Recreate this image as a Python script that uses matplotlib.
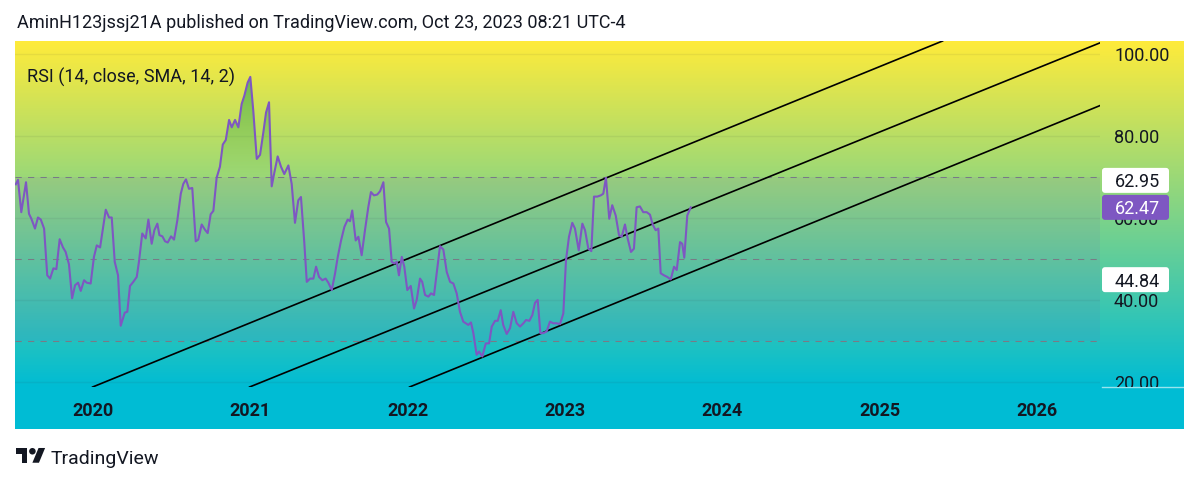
import matplotlib
matplotlib.use("Agg")
import matplotlib.pyplot as plt
import numpy as np
from matplotlib.colors import to_rgb
from matplotlib.patches import FancyBboxPatch, Polygon, Circle
from matplotlib.transforms import blended_transform_factory

plt.rcParams["font.family"] = ["Roboto", "DejaVu Sans"]

# ── Data (weekly RSI, x in decimal years) ─────────────────────────────────────
rsi_t = [
    2019.509, 2019.523, 2019.544, 2019.574, 2019.593, 2019.608, 2019.631, 2019.650,
    2019.668, 2019.689, 2019.709, 2019.727, 2019.748, 2019.767, 2019.788, 2019.809,
    2019.826, 2019.847, 2019.867, 2019.886, 2019.905, 2019.922, 2019.943, 2019.960,
    2019.985, 2020.006, 2020.024, 2020.045, 2020.081, 2020.102, 2020.119, 2020.138,
    2020.159, 2020.176, 2020.202, 2020.218, 2020.235, 2020.256, 2020.278, 2020.292,
    2020.313, 2020.335, 2020.352, 2020.373, 2020.390, 2020.409, 2020.422, 2020.441,
    2020.458, 2020.475, 2020.496, 2020.515, 2020.536, 2020.558, 2020.574, 2020.591,
    2020.610, 2020.631, 2020.653, 2020.669, 2020.691, 2020.712, 2020.729, 2020.748,
    2020.765, 2020.786, 2020.807, 2020.825, 2020.844, 2020.865, 2020.882, 2020.903,
    2020.924, 2020.945, 2020.962, 2020.983, 2021.000, 2021.019, 2021.041, 2021.062,
    2021.083, 2021.100, 2021.119, 2021.136, 2021.153, 2021.174, 2021.195, 2021.216,
    2021.242, 2021.263, 2021.284, 2021.305, 2021.322, 2021.343, 2021.359, 2021.380,
    2021.401, 2021.418, 2021.437, 2021.458, 2021.479, 2021.496, 2021.518, 2021.539,
    2021.556, 2021.577, 2021.598, 2021.619, 2021.634, 2021.648, 2021.670, 2021.687,
    2021.708, 2021.729, 2021.750, 2021.767, 2021.786, 2021.807, 2021.825, 2021.846,
    2021.863, 2021.882, 2021.899, 2021.915, 2021.931, 2021.945, 2021.963, 2021.979,
    2021.998, 2022.020, 2022.041, 2022.058, 2022.079, 2022.093, 2022.111, 2022.132,
    2022.149, 2022.168, 2022.185, 2022.206, 2022.227, 2022.249, 2022.270, 2022.291,
    2022.312, 2022.333, 2022.354, 2022.386, 2022.403, 2022.418, 2022.439, 2022.454,
    2022.475, 2022.497, 2022.518, 2022.535, 2022.556, 2022.573, 2022.592, 2022.608,
    2022.630, 2022.651, 2022.672, 2022.694, 2022.715, 2022.736, 2022.753, 2022.774,
    2022.793, 2022.810, 2022.827, 2022.844, 2022.863, 2022.884, 2022.905, 2022.926,
    2022.948, 2022.969, 2022.990, 2023.007, 2023.026, 2023.047, 2023.064, 2023.088,
    2023.111, 2023.128, 2023.149, 2023.168, 2023.185, 2023.206, 2023.228, 2023.244,
    2023.261, 2023.282, 2023.301, 2023.323, 2023.344, 2023.361, 2023.382, 2023.399,
    2023.420, 2023.439, 2023.456, 2023.477, 2023.498, 2023.520, 2023.541, 2023.558,
    2023.577, 2023.594, 2023.609, 2023.630, 2023.651, 2023.673, 2023.694, 2023.711,
    2023.732, 2023.746, 2023.759, 2023.778, 2023.800,
]
rsi_v = [
    68.1, 69.2, 61.3, 68.6, 60.9, 59.7, 57.3, 60.0,
    59.5, 57.3, 45.9, 45.1, 47.6, 47.4, 54.7, 52.7,
    51.6, 48.6, 40.3, 43.5, 44.1, 42.1, 44.7, 44.1,
    43.9, 50.4, 53.2, 52.7, 61.9, 60.0, 60.0, 49.2,
    45.9, 33.6, 36.8, 37.0, 43.3, 44.3, 45.5, 49.2,
    56.1, 54.9, 59.5, 53.6, 56.9, 58.5, 55.7, 55.4,
    54.2, 53.9, 55.4, 54.6, 59.3, 65.8, 68.2, 69.3,
    67.0, 67.2, 54.2, 54.6, 58.3, 57.0, 56.2, 60.8,
    61.6, 69.7, 72.4, 77.8, 78.9, 83.8, 82.0, 83.8,
    82.0, 87.7, 89.7, 92.9, 94.3, 86.0, 74.3, 75.3,
    80.8, 85.6, 88.1, 67.6, 71.0, 74.9, 72.4, 70.6,
    72.7, 68.2, 58.7, 64.2, 65.0, 54.0, 44.3, 45.1,
    45.1, 48.0, 45.5, 44.7, 45.1, 44.1, 42.3, 46.4,
    50.4, 54.4, 57.7, 59.5, 59.1, 61.7, 54.4, 55.3,
    50.8, 56.9, 62.5, 66.2, 65.4, 65.6, 66.4, 68.6,
    58.9, 57.3, 49.2, 48.8, 49.2, 45.9, 50.4, 48.0,
    42.3, 43.3, 37.8, 39.9, 45.1, 44.3, 41.1, 40.7,
    41.5, 41.1, 46.4, 53.0, 52.2, 46.7, 44.3, 43.9,
    41.5, 37.0, 34.6, 33.8, 34.4, 31.8, 26.5, 27.3,
    26.1, 29.3, 29.3, 33.4, 34.8, 34.8, 37.4, 33.8,
    31.6, 33.0, 37.0, 34.2, 33.4, 34.2, 35.0, 34.8,
    36.2, 39.2, 39.9, 31.8, 31.8, 32.2, 34.6, 34.2,
    34.2, 34.0, 36.6, 49.6, 55.3, 58.7, 57.3, 52.0,
    58.5, 56.9, 52.4, 51.8, 65.1, 65.1, 65.4, 65.8,
    69.7, 59.7, 63.0, 60.5, 55.7, 55.3, 58.3, 54.9,
    51.6, 52.4, 62.5, 62.7, 61.3, 61.3, 60.7, 58.3,
    56.9, 57.3, 46.4, 45.9, 45.5, 44.9, 48.0, 47.2,
    54.0, 53.6, 50.2, 60.5, 62.47,
]

# parallel channel: each line through two anchor points (year, RSI)
chan_xa = [2020.000, 2020.998, 2022.015]
chan_ya = [18.7, 18.7, 18.7]
chan_xb = [2025.385, 2026.402, 2026.402]
chan_yb = [102.8, 102.6, 87.3]

dashed_levels = [70, 50, 30]
grid_levels = [20, 40, 60, 80, 100]
price_ticks = [100, 80, 60, 40, 20]
year_ticks = [2020, 2021, 2022, 2023, 2024, 2025, 2026]

# right-scale value labels: (value, box colour, text colour)
scale_labels = [(44.84, "white", "#131722"), (62.47, "#7E57C2", "white"), (62.95, "white", "#131722")]

X_MIN, X_MAX = 2019.504, 2026.402
Y_MIN, Y_MAX = 18.66, 103.05

TOP_COL = "#FFEB3B"
BOT_COL = "#00BCD4"
INK = "#131722"
RSI_COL = "#7E57C2"
FS = 13

# ── Figure / axes layout (pixel based) ────────────────────────────────────────
W, H = 1200, 483
fig = plt.figure(figsize=(W / 100, H / 100), dpi=100)
fig.patch.set_facecolor("white")

PL, PR, PT, PB, SR, TB = 15, 1100, 41, 387, 1184, 429

deco = fig.add_axes([0, 0, 1, 1], zorder=0)
deco.set_axis_off()

ax = fig.add_axes([PL / W, (H - PB) / H, (PR - PL) / W, (PB - PT) / H], zorder=1)
pax = fig.add_axes([PR / W, (H - PB) / H, (SR - PR) / W, (PB - PT) / H], zorder=2)

# background gradient over pane + price scale, solid time scale below
grad = np.linspace(0, 1, 400)[:, None, None]
bg = (1 - grad) * np.array(to_rgb(TOP_COL)) + grad * np.array(to_rgb(BOT_COL))
deco.imshow(bg, extent=[PL, SR, PB, PT], origin="upper", aspect="auto", zorder=0)
deco.add_patch(plt.Rectangle((PL, PB), SR - PL, TB - PB, color=BOT_COL, lw=0, zorder=1))
deco.plot([PR + 2, SR], [PB - 0.5, PB - 0.5], color="white", alpha=0.6, lw=1, zorder=2)
deco.set_xlim(0, W)
deco.set_ylim(H, 0)

deco.text(17, 27.5, "AminH123jssj21A published on TradingView.com, Oct 23, 2023 08:21 UTC-4",
          fontsize=FS, color=INK, va="baseline", ha="left")

# TradingView logo + wordmark
s, lx, ly = 0.82, 16, 444.7
logo_t = [(14, 22), (7, 22), (7, 11), (0, 11), (0, 4), (14, 4)]
logo_v = [(28, 22), (20, 22), (27.5, 4), (35.5, 4)]
for shape in (logo_t, logo_v):
    deco.add_patch(Polygon([(lx + s * a, ly + s * b) for a, b in shape], closed=True,
                           facecolor=INK, edgecolor="none"))
deco.add_patch(Circle((lx + s * 20, ly + s * 8), s * 4, facecolor=INK, edgecolor="none"))
deco.text(51, 464, "TradingView", fontsize=14, color=INK, va="baseline", ha="left")

# ── Main RSI pane ─────────────────────────────────────────────────────────────
ax.set_facecolor("none")
for sp in ax.spines.values():
    sp.set_visible(False)
ax.set_xticks([])
ax.set_yticks([])

rsi_t_arr = np.array(rsi_t)
rsi_v_arr = np.array(rsi_v)

for lv in grid_levels:
    ax.axhline(lv, color="#2A2E39", alpha=0.07, lw=1, zorder=1)

ax.axhspan(30, 70, color=RSI_COL, alpha=0.1, lw=0, zorder=1)
for lv in dashed_levels:
    ax.axhline(lv, color="#787B86", lw=0.75, dashes=(6, 6), zorder=2)

# overbought / oversold gradient fills
ob = ax.fill_between(rsi_t_arr, 70, np.maximum(rsi_v_arr, 70), facecolor="none", edgecolor="none")
g = np.zeros((256, 1, 4))
g[..., :3] = to_rgb("#4CAF50")
g[..., 3] = np.linspace(1, 0, 256)[:, None]
im = ax.imshow(g, extent=[X_MIN, X_MAX, 70, 100], origin="upper", aspect="auto", zorder=2)
im.set_clip_path(ob.get_paths()[0], ax.transData)

os_ = ax.fill_between(rsi_t_arr, np.minimum(rsi_v_arr, 30), 30, facecolor="none", edgecolor="none")
g2 = np.zeros((256, 1, 4))
g2[..., :3] = to_rgb("#FF5252")
g2[..., 3] = np.linspace(0, 1, 256)[:, None]
im2 = ax.imshow(g2, extent=[X_MIN, X_MAX, 0, 30], origin="upper", aspect="auto", zorder=2)
im2.set_clip_path(os_.get_paths()[0], ax.transData)

ax.plot(rsi_t_arr, rsi_v_arr, color=RSI_COL, lw=1.5, zorder=4, solid_joinstyle="round")

for xa, ya, xb, yb in zip(chan_xa, chan_ya, chan_xb, chan_yb):
    ax.axline((xa, ya), (xb, yb), color="black", lw=1.2, zorder=3)

ax.text(0.011, 0.88, "RSI (14, close, SMA, 14, 2)", transform=ax.transAxes,
        fontsize=FS, color=INK, va="baseline", ha="left", zorder=6)

ax.set_xlim(X_MIN, X_MAX)
ax.set_ylim(Y_MIN, Y_MAX)

# year labels in the time scale
yr_tr = blended_transform_factory(ax.transData, deco.transData)
for yr in year_ticks:
    deco.text(yr, 416, str(yr), transform=yr_tr, fontsize=FS, fontweight="bold",
              color=INK, ha="center", va="baseline", zorder=5)

# ── Price scale ───────────────────────────────────────────────────────────────
pax.set_facecolor("none")
pax.set_axis_off()
pax.set_xlim(0, SR - PR)
pax.set_ylim(Y_MIN, Y_MAX)
px_per_unit = (PB - PT) / (Y_MAX - Y_MIN)

for v in price_ticks:
    pax.text(14, v, f"{v:.2f}", fontsize=FS, color=INK, va="center_baseline",
             ha="left", clip_on=True, zorder=1)

box_h = 25 / px_per_unit
placed = []
for val, fc, tc in scale_labels:
    yc = val
    for p in placed:
        if abs(yc - p) < box_h:
            yc = p + box_h + 2 / px_per_unit
    placed.append(yc)
    pax.add_patch(FancyBboxPatch((2, yc - box_h / 2), 67, box_h,
                                 boxstyle="round,pad=0,rounding_size=3",
                                 mutation_aspect=1 / px_per_unit,
                                 facecolor=fc, edgecolor="none", zorder=3))
    pax.text(15, yc, f"{val:.2f}", fontsize=FS, color=tc, va="center_baseline",
             ha="left", zorder=4)

fig.savefig("out.png", dpi=100)
